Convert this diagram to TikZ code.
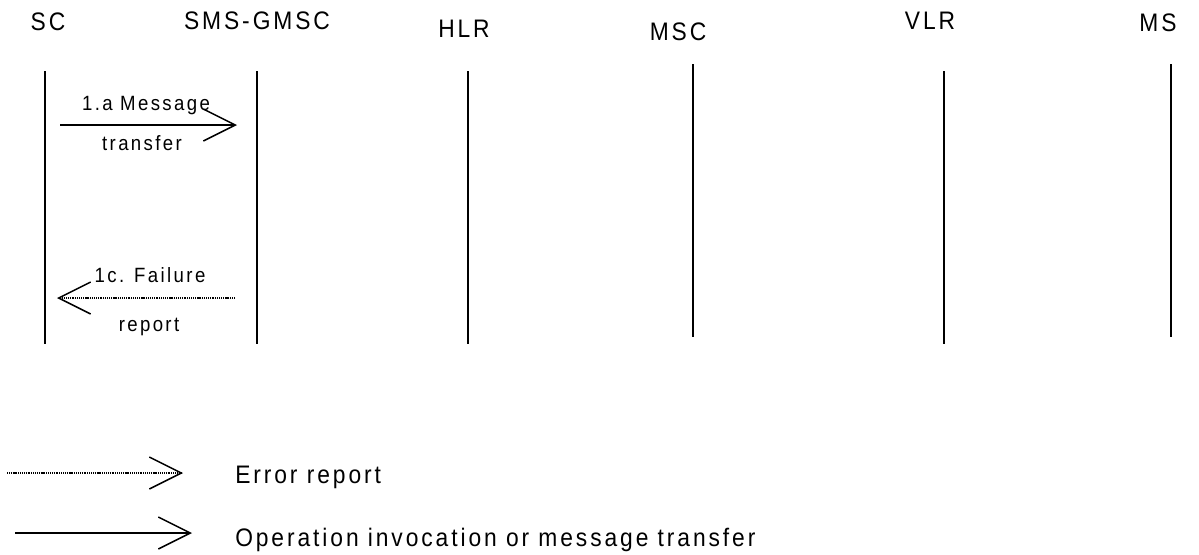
\documentclass[tikz,border=0pt]{standalone}
\usepackage{fontspec}
\setmainfont{Liberation Sans}[LetterSpace=8]
\newfontfamily\condfont{Liberation Sans}[FakeStretch=0.9,LetterSpace=11.5]
\usetikzlibrary{arrows.meta}
\begin{document}
\begin{tikzpicture}[x=0.75pt,y=-0.75pt,
  life/.style={line width=1.2pt},
  head/.style={font=\condfont\fontsize{19pt}{21pt}\selectfont,anchor=base,inner sep=0pt},
  lab/.style={font=\condfont\fontsize{15.5pt}{17pt}\selectfont,anchor=base,inner sep=0pt},
  legtext/.style={font=\condfont\fontsize{19pt}{21pt}\selectfont,anchor=base west,inner sep=0pt},
  msg/.style={line width=1.1pt,-{Straight Barb[length=24pt,width=24pt,line width=1.1pt]}},
  err/.style={line width=0.8pt,dash pattern=on 0.8pt off 0.6pt,-{Straight Barb[length=24pt,width=24pt,line width=1.1pt]}}]
\useasboundingbox (0,0) rectangle (1199,554);
% headers
\node[head] (hSC) at (48,30) {SC};
\node[head] (hGMSC) at (257,29) {SMS-GMSC};
\node[head] (hHLR) at (464,37) {HLR};
\node[head] (hMSC) at (678,40) {MSC};
\node[head] (hVLR) at (930,29) {VLR};
\node[head] (hMS) at (1158,31) {MS};
% lifelines
\coordinate (sct) at (45,71); \coordinate (scb) at (45,344);
\coordinate (gt) at (257,71); \coordinate (gb) at (257,344);
\coordinate (ht) at (468,71); \coordinate (hb) at (468,344);
\coordinate (mt) at (693,64); \coordinate (mb) at (693,337);
\coordinate (vt) at (944,71); \coordinate (vb) at (944,344);
\coordinate (st) at (1171,64); \coordinate (sb) at (1171,337);
\draw[life] (sct) -- (scb);
\draw[life] (gt) -- (gb);
\draw[life] (ht) -- (hb);
\draw[life] (mt) -- (mb);
\draw[life] (vt) -- (vb);
\draw[life] (st) -- (sb);
% message 1a
\coordinate (a1s) at (60,125); \coordinate (a1e) at (237,125);
\draw[msg] (a1s) -- (a1e);
\node[lab] (l1a) at (146,110) {1.a Message};
\node[lab] (l1b) at (142,150) {transfer};
% message 1c
\coordinate (c1s) at (235,298); \coordinate (c1e) at (57,298);
\draw[err] (c1s) -- (c1e);
\node[lab] (l2a) at (150,282) {1c. Failure};
\node[lab] (l2b) at (149,331) {report};
% legend
\coordinate (e1) at (7,473); \coordinate (e2) at (183,473);
\draw[err] (e1) -- (e2);
\node[legtext] (le) at (235,483) {Error report};
\coordinate (o1) at (15,533); \coordinate (o2) at (192,533);
\draw[msg] (o1) -- (o2);
\node[legtext] (lo) at (235,546) {Operation invocation or message transfer};
\end{tikzpicture}
\end{document}
